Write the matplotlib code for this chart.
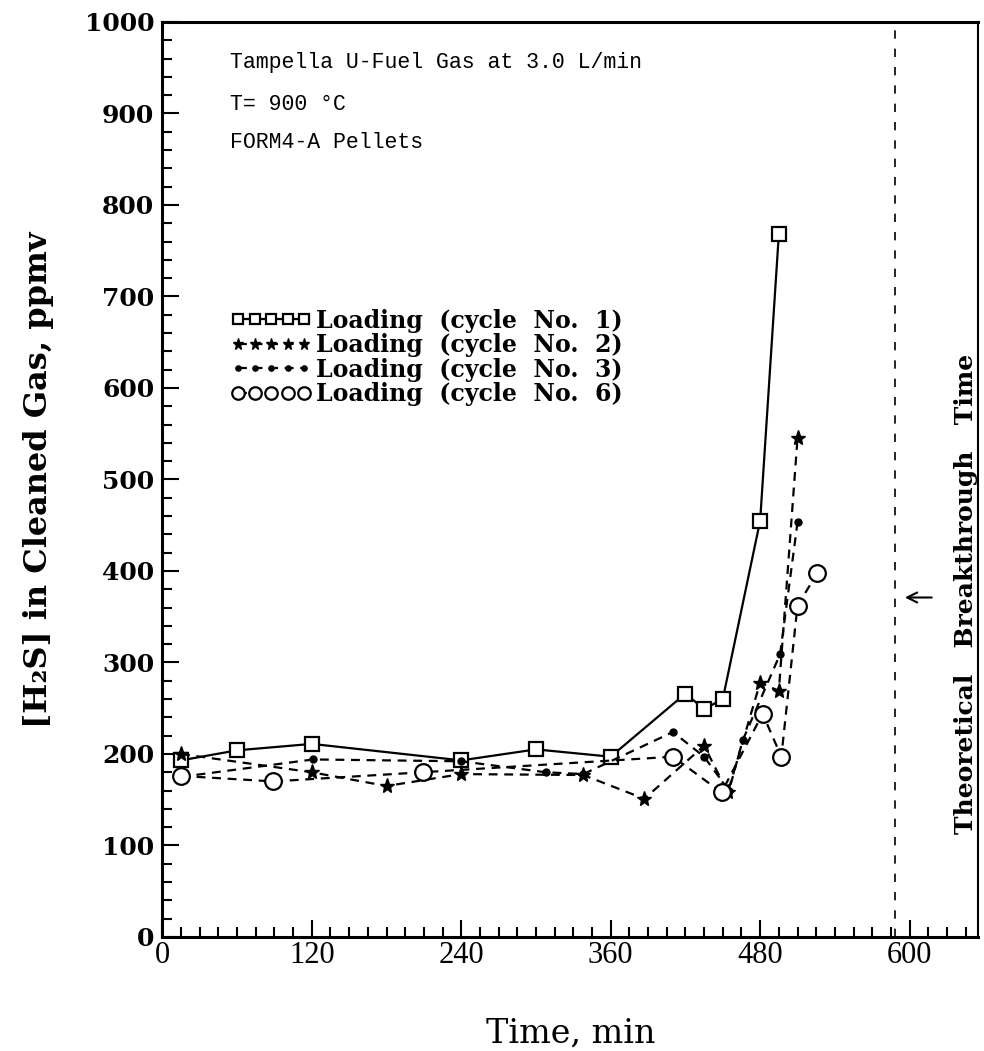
import matplotlib
matplotlib.use("Agg")
import matplotlib.pyplot as plt
from matplotlib.ticker import MultipleLocator

# ---- data ----
t_c1 = [15, 60, 120, 240, 300, 360, 420, 435, 450, 480, 495]
v_c1 = [193, 204, 211, 193, 205, 197, 266, 249, 260, 455, 768]

t_c2 = [15, 120, 180, 240, 338, 387, 435, 454, 480, 495, 510]
v_c2 = [200, 180, 165, 178, 177, 151, 209, 158, 278, 269, 545]

t_c3 = [15, 121, 240, 308, 338, 410, 435, 455, 466, 496, 510]
v_c3 = [175, 194, 192, 180, 178, 224, 197, 160, 215, 309, 453]

t_c6 = [15, 89, 209, 410, 449, 482, 497, 510, 526]
v_c6 = [176, 170, 180, 197, 158, 244, 197, 362, 398]

breakthrough_t = 588
x_ticks = [0, 120, 240, 360, 480, 600]
y_ticks = [0, 100, 200, 300, 400, 500, 600, 700, 800, 900, 1000]
legend_labels = ["Loading  (cycle  No.  1)", "Loading  (cycle  No.  2)",
                 "Loading  (cycle  No.  3)", "Loading  (cycle  No.  6)"]
notes = ["Tampella U-Fuel Gas at 3.0 L/min", "T= 900 \u00b0C", "FORM4-A Pellets"]

# ---- figure ----
fig = plt.figure(figsize=(9.84, 10.51), dpi=100)
ax = fig.add_axes([0.165, 0.1085, 0.829, 0.8706])

serif = "DejaVu Serif"
dash = (0, (4, 3))

l1, = ax.plot(t_c1, v_c1, color="black", lw=1.6, marker="s", ms=10,
              mfc="white", mec="black", mew=1.6)
l2, = ax.plot(t_c2, v_c2, color="black", lw=1.6, ls=dash, marker="*", ms=11,
              mfc="black", mec="black")
l3, = ax.plot(t_c3, v_c3, color="black", lw=1.6, ls=dash, marker="o", ms=5,
              mfc="black", mec="black")
l6, = ax.plot(t_c6, v_c6, color="black", lw=1.6, ls=dash, marker="o", ms=12,
              mfc="white", mec="black", mew=1.6)

ax.axvline(breakthrough_t, color="black", lw=1.2, ls=(0, (5, 6)))

ax.set_xlim(0, 655)
ax.set_ylim(0, 1000)
ax.set_xticks(x_ticks)
ax.set_yticks(y_ticks)
ax.xaxis.set_minor_locator(MultipleLocator(15))
ax.yaxis.set_minor_locator(MultipleLocator(20))
ax.tick_params(which="both", direction="in", top=False, right=False,
               width=1.5, colors="black")
ax.tick_params(which="major", length=12)
ax.tick_params(which="minor", length=7)
ax.tick_params(axis="x", labelsize=22, pad=3)
ax.tick_params(axis="y", labelsize=18, pad=6)
for lab in ax.get_xticklabels():
    lab.set_fontfamily("Liberation Serif")
for lab in ax.get_yticklabels():
    lab.set_fontfamily(serif)
    lab.set_fontweight("bold")
for s in ax.spines.values():
    s.set_linewidth(2.2)
ax.spines["right"].set_linewidth(1.5)

ax.set_xlabel("Time, min", fontsize=24, fontfamily=serif, labelpad=34)
ax.set_ylabel("[H\u2082S] in Cleaned Gas, ppmv", fontsize=23, fontfamily=serif,
              labelpad=22, fontweight="bold")

for i, txt in enumerate(notes):
    ax.text(54, [956, 910, 868][i], txt, fontsize=15.5, fontfamily="Liberation Mono",
            va="center", ha="left")

ax.text(645, 375, "Theoretical   Breakthrough   Time", rotation=90, fontsize=18,
        fontfamily=serif, fontweight="bold", ha="center", va="center")
ax.annotate("", xy=(594, 371), xytext=(620, 371),
            arrowprops=dict(arrowstyle="->", lw=1.5, color="black",
                            mutation_scale=18))

leg = ax.legend([l1, l2, l3, l6], legend_labels, loc="upper left",
                bbox_to_anchor=(0.058, 0.71), frameon=False, numpoints=5,
                handlelength=3.4, handletextpad=0.2, labelspacing=0.02,
                markerscale=0.75,
                prop={"family": serif, "size": 17, "weight": "bold"})

fig.savefig("out.png", dpi=100)
